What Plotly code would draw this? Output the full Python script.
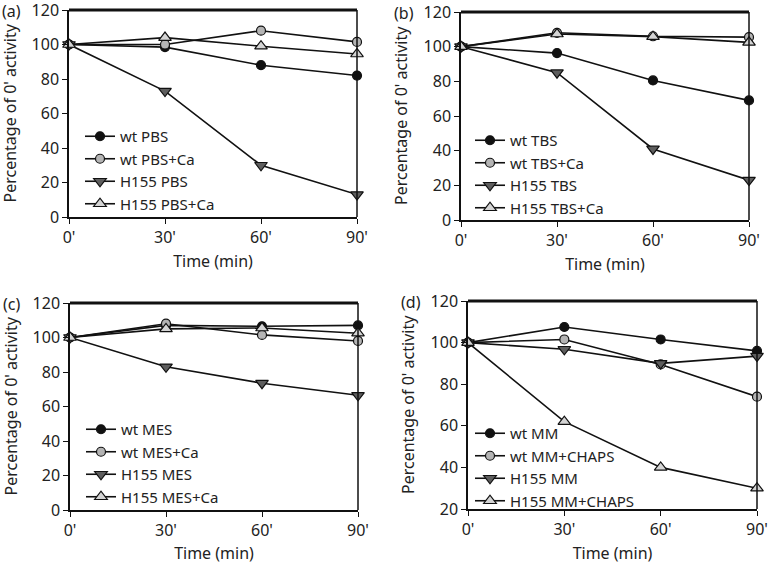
import plotly.graph_objects as go

times = [0, 30, 60, 90]
tick_labels = ["0'", "30'", "60'", "90'"]
y_title = "Percentage of 0' activity"
x_title = "Time (min)"

# Panel (a)
a_names = ["wt PBS", "wt PBS+Ca", "H155 PBS", "H155 PBS+Ca"]
a_wt = [100, 98.5, 88, 82]
a_wt_ca = [100, 100, 108, 101.5]
a_h155 = [100, 73, 30, 13]
a_h155_ca = [100, 104, 99, 94.5]

# Panel (b)
b_names = ["wt TBS", "wt TBS+Ca", "H155 TBS", "H155 TBS+Ca"]
b_wt = [100, 96.3, 80.5, 69]
b_wt_ca = [100, 108, 106, 105.5]
b_h155 = [100, 85, 41, 23]
b_h155_ca = [100, 107.3, 105.8, 102.5]

# Panel (c)
c_names = ["wt MES", "wt MES+Ca", "H155 MES", "H155 MES+Ca"]
c_wt = [100, 107, 106.5, 107]
c_wt_ca = [100, 108, 101.5, 98]
c_h155 = [100, 83, 73.5, 66.5]
c_h155_ca = [100, 105, 105.5, 102.5]

# Panel (d)
d_names = ["wt MM", "wt MM+CHAPS", "H155 MM", "H155 MM+CHAPS"]
d_wt = [100, 107.5, 101.5, 96]
d_wt_chaps = [100, 101.5, 89.5, 74]
d_h155 = [100, 96.8, 90, 93.5]
d_h155_chaps = [100, 62, 40, 30]

panel_labels = ["(a)", "(b)", "(c)", "(d)"]
y_ranges = [[0, 120], [0, 120], [0, 120], [20, 120]]
y_ticks = [[0, 20, 40, 60, 80, 100, 120]] * 3 + [[20, 40, 60, 80, 100, 120]]

W, H = 768, 564
# plot area boxes in pixels: x0, x1, ytop, ybottom
boxes = [(69, 357, 10, 217), (461, 749, 12, 220), (70, 358, 303, 510), (468, 757, 301, 509)]
# legend anchor (left px, center px)
legend_pos = [(80, 170), (470, 174), (81, 463), (470, 467)]

styles = [
    dict(symbol="circle", color="#111111", size=9),
    dict(symbol="circle", color="#b4b4b4", size=9),
    dict(symbol="triangle-down", color="#5e5e5e", size=11),
    dict(symbol="triangle-up", color="#d4d4d4", size=11),
]

panels = [
    (a_names, [a_wt, a_wt_ca, a_h155, a_h155_ca]),
    (b_names, [b_wt, b_wt_ca, b_h155, b_h155_ca]),
    (c_names, [c_wt, c_wt_ca, c_h155, c_h155_ca]),
    (d_names, [d_wt, d_wt_chaps, d_h155, d_h155_chaps]),
]

FONT = "Noto Sans"
FS = 16
TXT = "#222222"
fig = go.Figure()
for i, (names, series) in enumerate(panels):
    xa = "x" if i == 0 else f"x{i+1}"
    ya = "y" if i == 0 else f"y{i+1}"
    leg = "legend" if i == 0 else f"legend{i+1}"
    for name, vals, st in zip(names, series, styles):
        fig.add_trace(go.Scatter(
            x=times, y=vals, name=name, mode="lines+markers",
            xaxis=xa, yaxis=ya, legend=leg, cliponaxis=False,
            line=dict(color="#111111", width=1.6),
            marker=dict(symbol=st["symbol"], size=st["size"], color=st["color"],
                        line=dict(color="#111111", width=1.2)),
        ))
    x0, x1, yt, yb = boxes[i]
    xd = [x0 / W, x1 / W]
    yd = [1 - yb / H, 1 - yt / H]
    axis_common = dict(showline=True, linecolor="#111111", linewidth=1.5,
                       ticks="outside", ticklen=5, tickwidth=1.3, tickcolor="#111111",
                       showgrid=False, zeroline=False, automargin=False,
                       ticklabeloverflow="allow",
                       tickfont=dict(family=FONT, size=FS, color=TXT))
    fig.layout[("xaxis" if i == 0 else f"xaxis{i+1}")] = dict(
        domain=xd, anchor=ya, range=[0, 90], tickvals=times, ticktext=tick_labels,
        title=dict(text=x_title, font=dict(family=FONT, size=FS, color=TXT), standoff=9),
        **axis_common)
    fig.layout[("yaxis" if i == 0 else f"yaxis{i+1}")] = dict(
        domain=yd, anchor=xa, range=y_ranges[i], tickvals=y_ticks[i],
        **axis_common)
    # y-axis title placed as rotated text
    fig.add_annotation(text=y_title, xref="paper", yref="paper",
                       x=(x0 - 60) / W, y=(yd[0] + yd[1]) / 2, textangle=-90,
                       xanchor="center", yanchor="middle", showarrow=False,
                       font=dict(family=FONT, size=FS, color=TXT))
    # thick top border and right border
    fig.add_shape(type="line", xref=f"{xa} domain", yref=f"{ya} domain",
                  x0=0, x1=1, y0=1, y1=1, line=dict(color="#111111", width=3))
    fig.add_shape(type="line", xref=f"{xa} domain", yref=f"{ya} domain",
                  x0=1, x1=1, y0=0, y1=1, line=dict(color="#111111", width=1.5))
    lx, lc = legend_pos[i]
    fig.layout[leg] = dict(x=lx / W, y=1 - lc / H, xanchor="left", yanchor="middle",
                           bgcolor="rgba(0,0,0,0)", borderwidth=0,
                           font=dict(family=FONT, size=15, color=TXT),
                           itemwidth=30, tracegroupgap=0)
    fig.add_annotation(text=panel_labels[i], xref="paper", yref="paper",
                       x=(x0 - 69) / W, y=1 - (yt + 1) / H, xanchor="left", yanchor="middle",
                       showarrow=False, font=dict(family=FONT, size=FS, color=TXT))

fig.update_layout(width=W, height=H, margin=dict(l=0, r=0, t=0, b=0),
                  paper_bgcolor="white", plot_bgcolor="white", showlegend=True)
fig.write_html("out.html", config={"displayModeBar": False},
               post_script="document.body.style.margin='0';document.body.style.padding='0';document.body.style.overflow='hidden';")
